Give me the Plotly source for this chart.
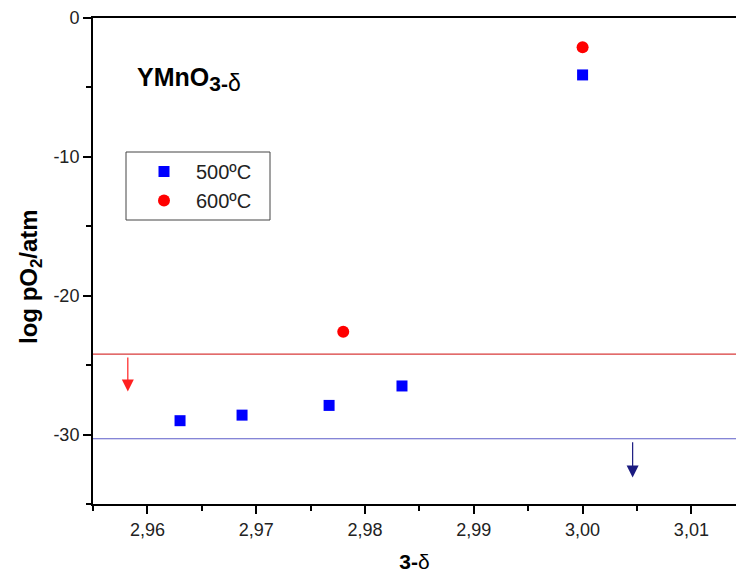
import plotly.graph_objects as go

# Data
x500 = [2.9630, 2.9687, 2.9767, 2.9834, 3.0000]
y500 = [-29.0, -28.6, -27.9, -26.5, -4.1]
x600 = [2.9780, 3.0000]
y600 = [-22.6, -2.1]

limit_levels = [-24.2, -30.3]          # red (600 C), blue (500 C)
limit_colors = ["#d83a3a", "#5c5cc8"]
arrow_x = [2.9582, 3.0046]
arrow_to = [-26.9, -33.1]
arrow_colors = ["#ff2020", "#1a1a80"]

xtick_vals = [2.96, 2.97, 2.98, 2.99, 3.00, 3.01]
xtick_text = ["2,96", "2,97", "2,98", "2,99", "3,00", "3,01"]
xminor_vals = [2.955, 2.965, 2.975, 2.985, 2.995, 3.005]
ytick_vals = [0, -10, -20, -30]
ytick_text = ["0", "-10", "-20", "-30"]
yminor_vals = [-5, -15, -25, -35]

FONT = "Liberation Sans"
W, H = 736, 577
L, R, T, B = 93, 0, 18, 73
PW, PH = W - L - R, H - T - B


def px(xp):
    return (xp - L) / PW


def py(yp):
    return (H - B - yp) / PH


fig = go.Figure()
fig.add_trace(go.Scatter(x=x500, y=y500, mode="markers", name="500ºC",
                         marker=dict(symbol="square", size=11, color="#0000ff")))
fig.add_trace(go.Scatter(x=x600, y=y600, mode="markers", name="600ºC",
                         marker=dict(symbol="circle", size=12, color="#ff0000")))

for lvl, col in zip(limit_levels, limit_colors):
    fig.add_shape(type="line", xref="paper", yref="y", x0=0, x1=1, y0=lvl, y1=lvl,
                  line=dict(color=col, width=1.2))

for ax_x, lvl, tgt, col in zip(arrow_x, limit_levels, arrow_to, arrow_colors):
    fig.add_annotation(x=ax_x, y=tgt, ax=ax_x, ay=lvl - 0.15, xref="x", yref="y",
                       axref="x", ayref="y", showarrow=True, arrowhead=2,
                       arrowsize=2.0, arrowwidth=1.2, arrowcolor=col, text="")

# legend frame
fig.add_shape(type="rect", xref="paper", yref="paper",
              x0=px(126), x1=px(270), y0=py(220), y1=py(152),
              line=dict(color="#444", width=1), fillcolor="rgba(0,0,0,0)", layer="above")

fig.add_annotation(xref="paper", yref="paper", x=px(135), y=py(79), xanchor="left",
                   yanchor="middle", showarrow=False,
                   text="<b>YMnO<sub><span style='font-size:21px'>3-</span></sub></b>"
                        "<sub><span style='font-size:23px'>δ</span></sub>",
                   font=dict(family=FONT, size=25, color="black"))

fig.add_annotation(xref="paper", yref="paper", x=px(30), y=py(277), xanchor="center",
                   yanchor="middle", showarrow=False, textangle=-90,
                   text="<b>log pO<sub>2</sub>/atm</b>",
                   font=dict(family=FONT, size=24, color="black"))

fig.update_layout(
    width=W, height=H,
    margin=dict(l=L, r=R, t=T, b=B),
    paper_bgcolor="white", plot_bgcolor="white",
    font=dict(family=FONT, size=18, color="#222"),
    showlegend=True,
    legend=dict(x=px(132), y=py(152), xanchor="left", yanchor="top",
                borderwidth=0, bgcolor="rgba(0,0,0,0)",
                font=dict(family=FONT, size=20, color="#222"),
                itemwidth=54, tracegroupgap=0),
    xaxis=dict(range=[2.955, 3.0141], showgrid=False, zeroline=False,
               showline=True, linecolor="black", linewidth=2, mirror=True,
               ticks="outside", ticklen=8, tickwidth=2, tickcolor="black",
               tickvals=xtick_vals, ticktext=xtick_text,
               minor=dict(tickvals=xminor_vals, ticks="outside", ticklen=5,
                          tickwidth=2, tickcolor="black"),
               title=dict(text="<b>3-</b>δ", font=dict(family=FONT, size=21, color="black"),
                          standoff=16)),
    yaxis=dict(range=[-35, 0], showgrid=False, zeroline=False,
               showline=True, linecolor="black", linewidth=2,
               ticks="outside", ticklen=8, tickwidth=2, tickcolor="black",
               tickvals=ytick_vals, ticktext=ytick_text,
               minor=dict(tickvals=yminor_vals, ticks="outside", ticklen=5,
                          tickwidth=2, tickcolor="black")),
)

fig.write_html("out.html")
